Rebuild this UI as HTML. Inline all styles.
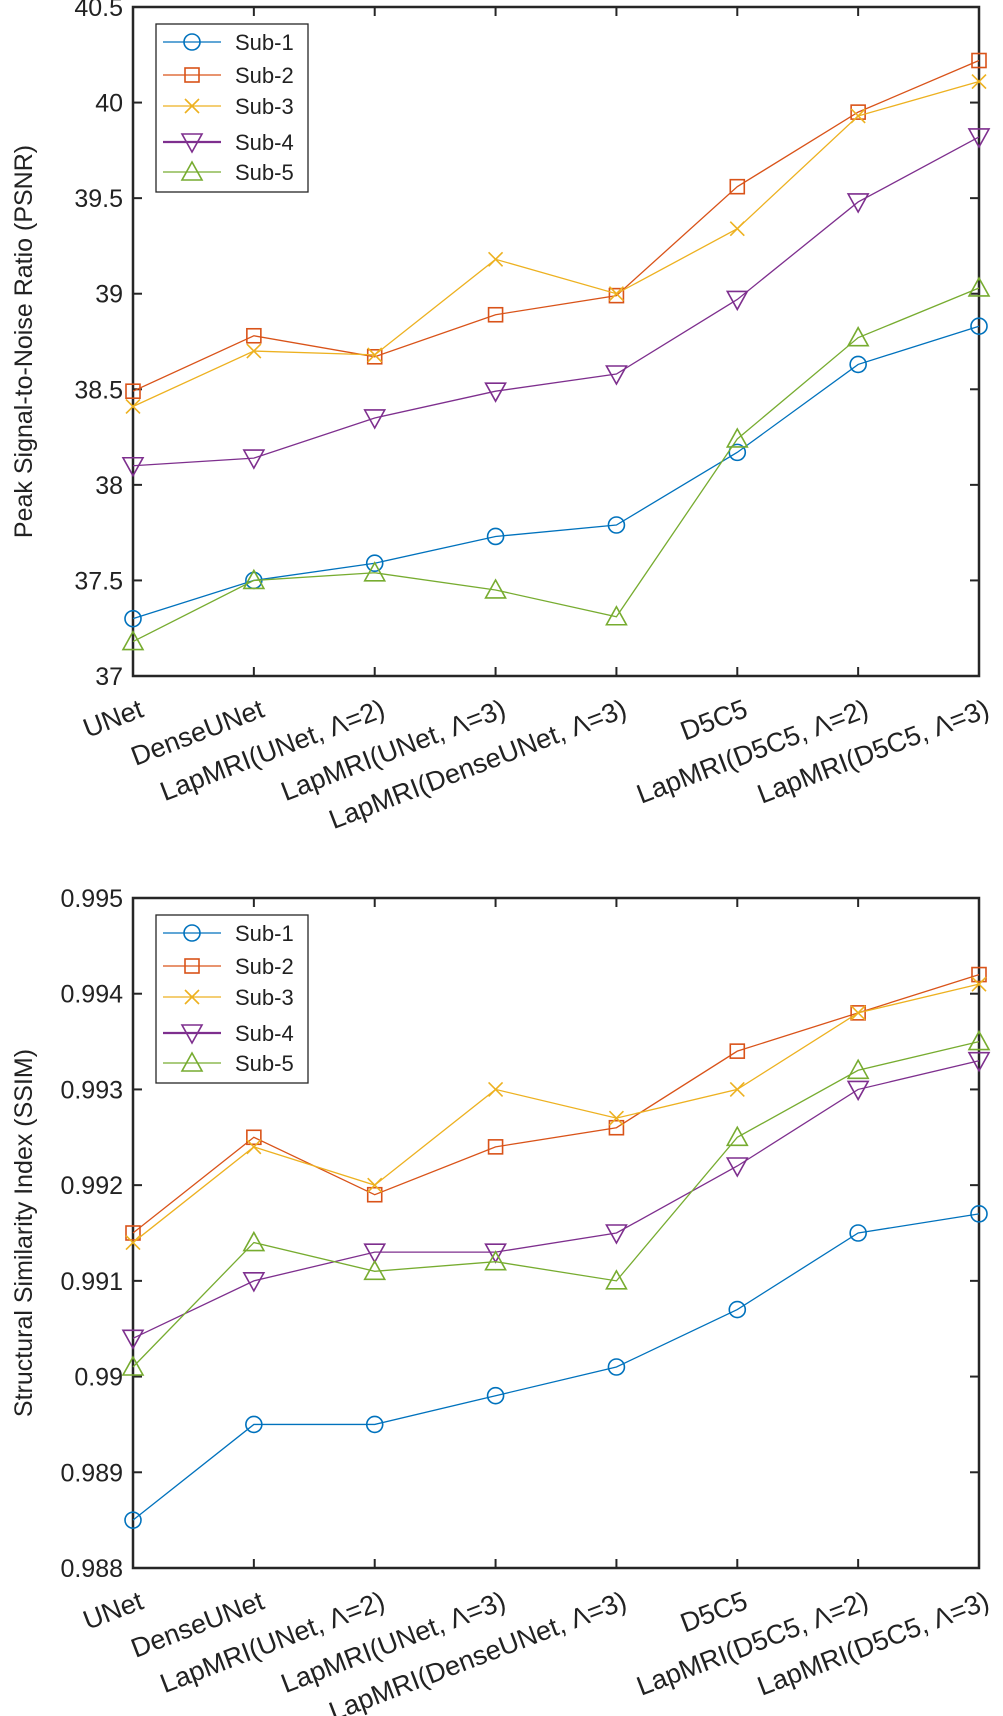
<!DOCTYPE html>
<html><head><meta charset="utf-8"><style>
html,body{margin:0;padding:0;background:#fff;}
svg{display:block;font-family:"Liberation Sans",sans-serif;}
</style></head><body>
<svg id="root" width="1003" height="1716" viewBox="0 0 1003 1716"></svg>
<script>
const categories=["UNet","DenseUNet","LapMRI(UNet, \u039B=2)","LapMRI(UNet, \u039B=3)","LapMRI(DenseUNet, \u039B=3)","D5C5","LapMRI(D5C5, \u039B=2)","LapMRI(D5C5, \u039B=3)"];
const seriesNames=["Sub-1","Sub-2","Sub-3","Sub-4","Sub-5"];
const psnrSub1=[37.30,37.50,37.59,37.73,37.79,38.17,38.63,38.83];
const psnrSub2=[38.49,38.78,38.67,38.89,38.99,39.56,39.95,40.22];
const psnrSub3=[38.41,38.70,38.68,39.18,39.00,39.34,39.93,40.11];
const psnrSub4=[38.10,38.14,38.35,38.49,38.58,38.97,39.48,39.82];
const psnrSub5=[37.18,37.50,37.54,37.45,37.31,38.24,38.77,39.03];
const ssimSub1=[0.9885,0.9895,0.9895,0.9898,0.9901,0.9907,0.9915,0.9917];
const ssimSub2=[0.9915,0.9925,0.9919,0.9924,0.9926,0.9934,0.9938,0.9942];
const ssimSub3=[0.9914,0.9924,0.9920,0.9930,0.9927,0.9930,0.9938,0.9941];
const ssimSub4=[0.9904,0.9910,0.9913,0.9913,0.9915,0.9922,0.9930,0.9933];
const ssimSub5=[0.9901,0.9914,0.9911,0.9912,0.9910,0.9925,0.9932,0.9935];
const psnrTicks=["37","37.5","38","38.5","39","39.5","40","40.5"];
const ssimTicks=["0.988","0.989","0.99","0.991","0.992","0.993","0.994","0.995"];

const colors=["#0072BD","#D95319","#EDB120","#7E2F8E","#77AC30"];
const markers=["circle","square","x","tri-down","tri-up"];
const NS="http://www.w3.org/2000/svg";
const root=document.getElementById('root');
function mk(tag,attrs,parent){const e=document.createElementNS(NS,tag);for(const k in attrs)e.setAttribute(k,attrs[k]);(parent||root).appendChild(e);return e;}

function marker(g,type,x,y,c){
  let e;
  const st={fill:'none',stroke:c,'stroke-width':1.6};
  if(type==='circle'){e=mk('circle',Object.assign({cx:x,cy:y,r:8},st),g);}
  else if(type==='square'){e=mk('rect',Object.assign({x:x-7,y:y-7,width:14,height:14},st),g);}
  else if(type==='x'){e=mk('path',Object.assign({d:`M${x-7} ${y-7}L${x+7} ${y+7}M${x+7} ${y-7}L${x-7} ${y+7}`},st),g);}
  else if(type==='tri-down'){e=mk('path',Object.assign({d:`M${x-10} ${y-8}L${x+10} ${y-8}L${x} ${y+10}Z`},st),g);}
  else {e=mk('path',Object.assign({d:`M${x-10} ${y+8}L${x+10} ${y+8}L${x} ${y-10}Z`},st),g);}
  return e;
}

function chart(name,top,bottom,ymin,ymax,ticks,series,title,legTop){
  const L=133,R=979;
  const g=mk('g',{});
  
  
  const xs=i=>L+i*(R-L)/(categories.length-1);
  const ys=v=>bottom-(v-ymin)/(ymax-ymin)*(bottom-top);
  ticks.forEach(t=>{
    const y=ys(parseFloat(t));
    const tl=mk('text',{x:L-10,y:y+9,'text-anchor':'end','font-size':25,fill:'#222'},g);
    tl.textContent=t;
    
    
    mk('line',{x1:L,x2:L+9,y1:y,y2:y,stroke:'#262626','stroke-width':2},g);
    mk('line',{x1:R,x2:R-9,y1:y,y2:y,stroke:'#262626','stroke-width':2},g);
  });
  categories.forEach((c,i)=>{
    const x=xs(i);
    mk('line',{x1:x,x2:x,y1:bottom,y2:bottom-9,stroke:'#262626','stroke-width':2},g);
    mk('line',{x1:x,x2:x,y1:top,y2:top+9,stroke:'#262626','stroke-width':2},g);
    const ax=x+12, ay=bottom+40;
    const t=mk('text',{x:ax,y:ay,'text-anchor':'end','font-size':27,fill:'#222',transform:`rotate(-21 ${ax} ${ay})`},g);
    t.textContent=c;
    
    
  });
  const box=mk('rect',{x:L,y:top,width:R-L,height:bottom-top,fill:'none',stroke:'#262626','stroke-width':2.5},g);
  
  
  const yt=mk('text',{x:0,y:0,'text-anchor':'middle','font-size':25,fill:'#222',transform:`translate(32 ${(top+bottom)/2}) rotate(-90)`},g);
  yt.textContent=title;
  
  
  series.forEach((vals,s)=>{
    const sg=mk('g',{},g);
    
    
    const pts=vals.map((v,i)=>xs(i)+','+ys(v)).join(' ');
    mk('polyline',{points:pts,fill:'none',stroke:colors[s],'stroke-width':1.3},sg);
    vals.forEach((v,i)=>{
      const m=marker(sg,markers[s],xs(i),ys(v),colors[s]);
      
      
    });
  });
  const lg=mk('g',{},g);
  
  
  mk('rect',{x:156,y:legTop,width:152,height:168,fill:'#fff',stroke:'#262626','stroke-width':1.3},lg);
  const offs=[18,51,82,118,148];
  seriesNames.forEach((n,s)=>{
    const y=legTop+offs[s];
    const eg=mk('g',{},lg);
    
    
    mk('line',{x1:163,x2:221,y1:y,y2:y,stroke:colors[s],'stroke-width':s===3?2.2:1.3},eg);
    marker(eg,markers[s],192,y,colors[s]);
    const t=mk('text',{x:235,y:y+8,'font-size':22,fill:'#222'},eg);
    t.textContent=n;
  });
}
chart('psnr-chart',7,676,37,40.5,psnrTicks,[psnrSub1,psnrSub2,psnrSub3,psnrSub4,psnrSub5],'Peak Signal-to-Noise Ratio (PSNR)',24);
chart('ssim-chart',898,1568,0.988,0.995,ssimTicks,[ssimSub1,ssimSub2,ssimSub3,ssimSub4,ssimSub5],'Structural Similarity Index (SSIM)',915);
</script>
</body></html>
